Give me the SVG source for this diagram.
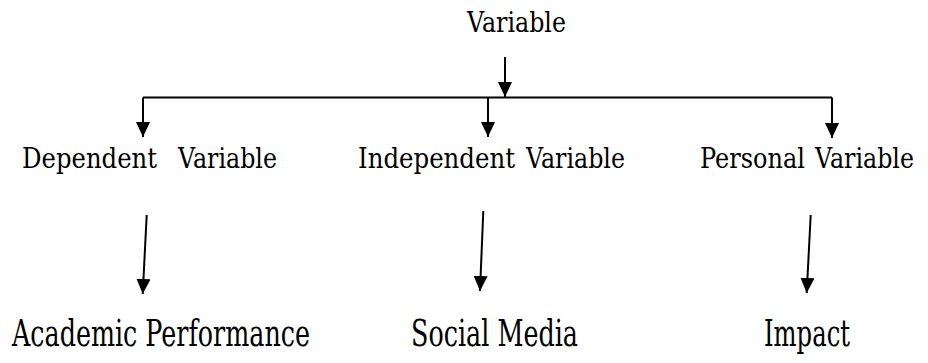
<svg xmlns="http://www.w3.org/2000/svg" width="928" height="363" viewBox="0 0 928 363">
<defs>
<style>
text{font-family:'DejaVu Serif','Liberation Serif',serif;font-size:27px;fill:#000}
.c{stroke:#000;stroke-width:2;fill:none}
</style>
<marker id="ah" markerUnits="userSpaceOnUse" viewBox="0 0 15 14" markerWidth="15" markerHeight="14" refX="15" refY="7" orient="auto">
<path d="M0,0 L15,7 L0,14 z" fill="#000"/>
</marker>
</defs>
<rect width="928" height="363" fill="#fff"/>
<g id="connectors">
<line class="c" x1="143" y1="97.5" x2="832" y2="97.5"/>
<line class="c" x1="505" y1="57" x2="505" y2="97" marker-end="url(#ah)"/>
<line class="c" x1="143" y1="97.5" x2="143" y2="137" marker-end="url(#ah)"/>
<line class="c" x1="488" y1="97.5" x2="488" y2="137" marker-end="url(#ah)"/>
<line class="c" x1="832" y1="97.5" x2="832" y2="138" marker-end="url(#ah)"/>
<line class="c" x1="146.7" y1="215" x2="142.7" y2="294" marker-end="url(#ah)"/>
<line class="c" x1="483.3" y1="211" x2="480" y2="291" marker-end="url(#ah)"/>
<line class="c" x1="810.7" y1="215" x2="806.7" y2="293" marker-end="url(#ah)"/>
</g>
<g id="variable"><text x="467" y="32" textLength="99" lengthAdjust="spacingAndGlyphs">Variable</text></g>
<g id="dependent"><text y="168" lengthAdjust="spacingAndGlyphs"><tspan x="22" textLength="135" lengthAdjust="spacingAndGlyphs">Dependent</tspan> <tspan x="178" textLength="99" lengthAdjust="spacingAndGlyphs">Variable</tspan></text></g>
<g id="independent"><text y="168"><tspan x="358" textLength="157" lengthAdjust="spacingAndGlyphs">Independent</tspan> <tspan x="526" textLength="99" lengthAdjust="spacingAndGlyphs">Variable</tspan></text></g>
<g id="personal"><text y="168"><tspan x="700" textLength="105" lengthAdjust="spacingAndGlyphs">Personal</tspan> <tspan x="815" textLength="99" lengthAdjust="spacingAndGlyphs">Variable</tspan></text></g>
<g id="academic"><text transform="translate(12,346) scale(1,1.35)" textLength="298" lengthAdjust="spacingAndGlyphs">Academic Performance</text></g>
<g id="social"><text transform="translate(411,346) scale(1,1.35)" textLength="167" lengthAdjust="spacingAndGlyphs">Social Media</text></g>
<g id="impact"><text transform="translate(764,346) scale(1,1.35)" textLength="86" lengthAdjust="spacingAndGlyphs">Impact</text></g>
</svg>
